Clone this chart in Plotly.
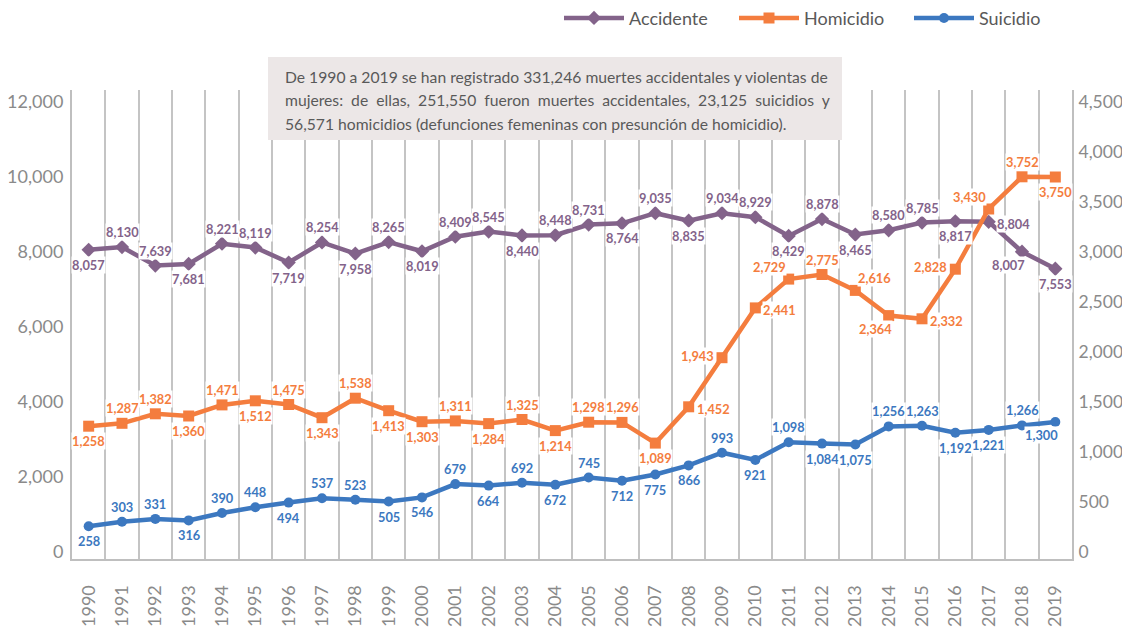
import plotly.graph_objects as go

years = list(range(1990, 2020))
accidente = [8057, 8130, 7639, 7681, 8221, 8119, 7719, 8254, 7958, 8265,
             8019, 8409, 8545, 8440, 8448, 8731, 8764, 9035, 8835, 9034,
             8929, 8429, 8878, 8465, 8580, 8785, 8817, 8804, 8007, 7553]
homicidio = [1258, 1287, 1382, 1360, 1471, 1512, 1475, 1343, 1538, 1413,
             1303, 1311, 1284, 1325, 1214, 1298, 1296, 1089, 1452, 1943,
             2441, 2729, 2775, 2616, 2364, 2332, 2828, 3430, 3752, 3750]
suicidio = [258, 303, 331, 316, 390, 448, 494, 537, 523, 505,
            546, 679, 664, 692, 672, 745, 712, 775, 866, 993,
            921, 1098, 1084, 1075, 1256, 1263, 1192, 1221, 1266, 1300]
left_ticks = [0, 2000, 4000, 6000, 8000, 10000, 12000]
right_ticks = [0, 500, 1000, 1500, 2000, 2500, 3000, 3500, 4000, 4500]

# label placement: T=above, B=below, R=right, L=left, TL, TR, BL
pos_acc = ["B", "T", "T", "B", "T", "T", "B", "T", "B", "T",
           "B", "T", "T", "B", "T", "T", "B", "T", "B", "T",
           "T", "B", "T", "B", "T", "T", "B", "R", "BL", "B"]
pos_hom = ["B", "T", "T", "B", "T", "B", "T", "B", "T", "B",
           "B", "T", "B", "T", "B", "T", "T", "B", "R", "L",
           "R", "TL", "T", "TR", "BL", "R", "L", "TL", "T", "B"]
pos_sui = ["B", "T", "T", "B", "T", "T", "B", "T", "T", "B",
           "B", "T", "B", "T", "B", "T", "B", "B", "B", "T",
           "B", "T", "B", "B", "T", "T", "B", "B", "T", "BL"]

c_acc, c_hom, c_sui = "#83638A", "#F47D3E", "#3C78C0"
FONT = "Lato"

fig = go.Figure()
series = [("Accidente", accidente, pos_acc, c_acc, "diamond", "y"),
          ("Homicidio", homicidio, pos_hom, c_hom, "square", "y2"),
          ("Suicidio", suicidio, pos_sui, c_sui, "circle", "y2")]
for name, vals, pos, col, sym, ax in series:
    fig.add_trace(go.Scatter(
        x=years, y=vals, name=name, mode="lines+markers",
        line=dict(color=col, width=4.5),
        marker=dict(symbol=sym, size=11 if sym != "circle" else 10, color=col),
        yaxis=ax))

anchors = {
    "T": dict(xanchor="center", yanchor="bottom", xshift=0, yshift=6),
    "B": dict(xanchor="center", yanchor="top", xshift=0, yshift=-6),
    "R": dict(xanchor="left", yanchor="middle", xshift=7, yshift=-2),
    "L": dict(xanchor="right", yanchor="middle", xshift=-7, yshift=2),
    "TL": dict(xanchor="right", yanchor="bottom", xshift=-2, yshift=3),
    "TR": dict(xanchor="left", yanchor="bottom", xshift=2, yshift=3),
    "BL": dict(xanchor="right", yanchor="top", xshift=4, yshift=-4),
}
for name, vals, pos, col, sym, ax in series:
    for x, v, p in zip(years, vals, pos):
        fig.add_annotation(x=x, y=v, xref="x", yref=ax, text=f"{v:,}", showarrow=False,
                           bgcolor="white", borderpad=0,
                           font=dict(family=FONT, size=12.8, color=col, weight="bold"),
                           **anchors[p])

tick_font = dict(family=FONT, size=18, color="#8A8A8A")
fig.update_layout(
    width=1122, height=626,
    margin=dict(l=64, r=58, t=82, b=75, autoexpand=False),
    paper_bgcolor="white", plot_bgcolor="white",
    font=dict(family=FONT),
    showlegend=True,
    legend=dict(orientation="h", x=0.487, xanchor="left", y=1.153, yanchor="middle",
                font=dict(family=FONT, size=18, color="#595959"),
                entrywidth=100, entrywidthmode="pixels", itemwidth=60,
                bgcolor="rgba(0,0,0,0)"),
    xaxis=dict(range=[1989.5, 2019.5], tickvals=years, ticktext=[str(y) for y in years],
               tickangle=-90, tickfont=tick_font, showgrid=False, zeroline=False,
               showline=True, linecolor="#BFBFBF", linewidth=2, ticks="",
               ticklabelstandoff=17,
               minor=dict(tick0=1989.5, dtick=1, showgrid=True, gridcolor="#C4C4C4", gridwidth=1.5)),
    yaxis=dict(range=[-187, 12320], tickvals=left_ticks, tickformat=",", tickfont=tick_font,
               showgrid=False, zeroline=False, showline=True, linecolor="#BFBFBF", linewidth=2,
               ticks="", ticklabelstandoff=3),
    yaxis2=dict(range=[-70, 4620], tickvals=right_ticks, tickformat=",",
                tickfont=dict(family=FONT, size=17.5, color="#8A8A8A"),
                overlaying="y", side="right", showgrid=False, zeroline=False,
                showline=True, linecolor="#BFBFBF", linewidth=2, ticks="", ticklabelstandoff=1),
)

fig.add_shape(type="rect", xref="paper", yref="paper",
              x0=(268 - 72) / 1000, x1=(842 - 72) / 1000,
              y0=(559 - 140) / 469, y1=(559 - 57) / 469,
              fillcolor="#ECE7E7", line=dict(width=0), layer="above")
lines = ["De 1990 a 2019 se han registrado 331,246 muertes accidentales y violentas de",
         "mujeres:&nbsp; de&nbsp; ellas,&nbsp; 251,550&nbsp; fueron&nbsp; muertes&nbsp; accidentales,&nbsp; 23,125&nbsp; suicidios&nbsp; y",
         "56,571 homicidios (defunciones femeninas con presunción de homicidio)."]
for i, ln in enumerate(lines):
    fig.add_annotation(xref="paper", yref="paper", x=(283 - 72) / 1000,
                       y=(559 - (77 + 23.5 * i)) / 469, xanchor="left", yanchor="middle",
                       text=ln, showarrow=False,
                       font=dict(family=FONT, size=15.7, color="#595959"))

fig.write_html("out.html")
